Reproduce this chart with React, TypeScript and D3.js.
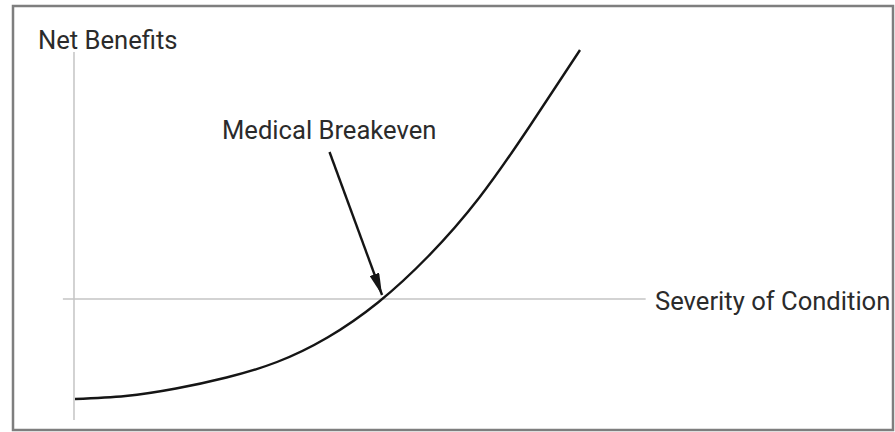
import * as d3 from 'd3'
import { useEffect, useRef } from 'react'

// severity (x) and net benefit (y)
const severity = [0, 1, 2, 3, 4, 5, 6, 7, 8, 9, 10]
const netBenefit = [-4.0, -3.88, -3.58, -3.14, -2.52, -1.54, -0.14, 1.72, 4.04, 6.9, 9.96]

// axis extents in data units
const xAxisExtent = [-0.24, 11.3]
const yAxisExtent = [-4.84, 9.88]

// breakeven annotation: label and arrow end points, in data units
const breakevenLabel = 'Medical Breakeven'
const arrowFrom = [5.04, 5.88]
const arrowTo = [6.08, 0.16]

const yTitle = 'Net Benefits'
const xTitle = 'Severity of Condition'

const App = () => {
  const ref = useRef<SVGSVGElement>(null)

  useEffect(() => {
    const width = 895
    const height = 432
    const svg = d3.select(ref.current)
    svg.selectAll('*').remove()
    svg.attr('width', width).attr('height', height)

    const x = d3.scaleLinear().domain([0, 10]).range([75, 580])
    const y = d3.scaleLinear().domain([0, 10]).range([299, 49])

    const font = 'Roboto, "Liberation Sans", sans-serif'
    const textColor = '#2b2b2b'

    // frame
    svg
      .append('rect')
      .attr('x', 13)
      .attr('y', 6)
      .attr('width', 880)
      .attr('height', 424)
      .attr('fill', '#fff')
      .attr('stroke', '#7e7e7e')
      .attr('stroke-width', 2.5)

    // axes
    svg
      .append('line')
      .attr('x1', x(-0.02))
      .attr('x2', x(-0.02))
      .attr('y1', y(yAxisExtent[1]))
      .attr('y2', y(yAxisExtent[0]))
      .attr('stroke', '#c4c4c4')
      .attr('stroke-width', 1.5)
    svg
      .append('line')
      .attr('x1', x(xAxisExtent[0]))
      .attr('x2', x(xAxisExtent[1]))
      .attr('y1', y(0))
      .attr('y2', y(0))
      .attr('stroke', '#c4c4c4')
      .attr('stroke-width', 1.5)

    // curve
    const line = d3
      .line<number>()
      .x((d, i) => x(severity[i]))
      .y((d) => y(d))
      .curve(d3.curveNatural)
    svg
      .append('path')
      .datum(netBenefit)
      .attr('d', line)
      .attr('fill', 'none')
      .attr('stroke', '#151515')
      .attr('stroke-width', 2.4)

    // arrow
    svg
      .append('defs')
      .append('marker')
      .attr('id', 'head')
      .attr('viewBox', '0 0 22 10')
      .attr('refX', 22)
      .attr('refY', 5)
      .attr('markerWidth', 22)
      .attr('markerHeight', 10)
      .attr('markerUnits', 'userSpaceOnUse')
      .attr('orient', 'auto')
      .append('path')
      .attr('d', 'M0,0 L22,5 L0,10 Z')
      .attr('fill', '#151515')
    svg
      .append('line')
      .attr('x1', x(arrowFrom[0]))
      .attr('y1', y(arrowFrom[1]))
      .attr('x2', x(arrowTo[0]))
      .attr('y2', y(arrowTo[1]))
      .attr('stroke', '#151515')
      .attr('stroke-width', 2.4)
      .attr('marker-end', 'url(#head)')

    // labels
    const labels: [string, number, number][] = [
      [yTitle, 38, 49],
      [breakevenLabel, 222, 139],
      [xTitle, 655, 310],
    ]
    svg
      .append('g')
      .selectAll('text')
      .data(labels)
      .join('text')
      .attr('x', (d) => d[1])
      .attr('y', (d) => d[2])
      .attr('font-family', font)
      .attr('font-size', 25.6)
      .attr('fill', textColor)
      .text((d) => d[0])
  }, [])

  return (
    <div>
      <svg ref={ref} style={{ position: 'absolute', left: 0, top: 0 }}></svg>
    </div>
  )
}
export default App
